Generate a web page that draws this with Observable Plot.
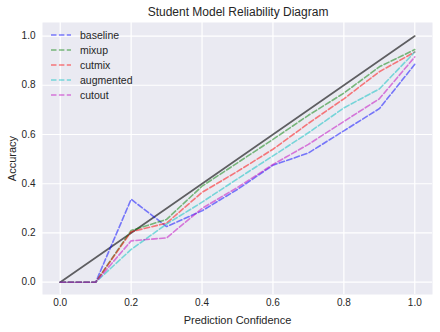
<!DOCTYPE html>
<html>
<head>
<meta charset="utf-8">
<script src="https://cdn.jsdelivr.net/npm/d3@7"></script>
<script src="https://cdn.jsdelivr.net/npm/@observablehq/plot@0.6"></script>
<style>
  html, body { margin: 0; padding: 0; background: #ffffff; }
  #wrap { position: relative; width: 440px; height: 332px; font-family: "Liberation Sans", Arial, sans-serif; color: #262626; }
  #title { height: 22px; line-height: 24px; text-align: center; font-size: 12px; padding-left: 36px; box-sizing: border-box; }
  #legend { position: absolute; left: 50px; top: 27px; font-size: 10.5px; }
  #legend .row { height: 15px; display: flex; align-items: center; }
  #legend svg { margin-right: 8px; }
</style>
</head>
<body>
<div id="wrap">
  <div id="title">Student Model Reliability Diagram</div>
  <div id="chart"></div>
  <div id="legend"></div>
</div>
<script>
const confidence = [0, 0.1, 0.2, 0.3, 0.4, 0.5, 0.6, 0.7, 0.8, 0.9, 1.0];
const baseline  = [0, 0, 0.337, 0.226, 0.29, 0.377, 0.475, 0.525, 0.615, 0.705, 0.885];
const mixup     = [0, 0, 0.21, 0.255, 0.39, 0.485, 0.58, 0.678, 0.768, 0.875, 0.945];
const cutmix    = [0, 0, 0.205, 0.24, 0.365, 0.45, 0.54, 0.645, 0.745, 0.855, 0.935];
const augmented = [0, 0, 0.133, 0.236, 0.325, 0.42, 0.513, 0.607, 0.708, 0.785, 0.935];
const cutout    = [0, 0, 0.168, 0.18, 0.30, 0.385, 0.478, 0.56, 0.653, 0.745, 0.915];
const perfectX = [0, 1];
const perfectY = [0, 1];
const seriesNames = ["baseline", "mixup", "cutmix", "augmented", "cutout"];
const seriesValues = [baseline, mixup, cutmix, augmented, cutout];
const seriesColors = ["#0000ff", "#008000", "#ff0000", "#00bfbf", "#bf00bf"];
const xTicks = [0, 0.2, 0.4, 0.6, 0.8, 1.0];
const yTicks = [0, 0.2, 0.4, 0.6, 0.8, 1.0];

const rows = [];
seriesNames.forEach((name, i) => {
  confidence.forEach((c, j) => rows.push({series: name, x: c, y: seriesValues[i][j]}));
});
const perfect = perfectX.map((v, i) => ({x: v, y: perfectY[i]}));

const chart = Plot.plot({
  width: 440,
  height: 310,
  marginTop: 0,
  marginLeft: 42,
  marginRight: 8,
  marginBottom: 38,
  style: {fontFamily: "Liberation Sans, Arial, sans-serif", fontSize: "10px", color: "#262626", background: "transparent"},
  x: {domain: [-0.05, 1.05], ticks: xTicks, tickFormat: d3.format(".1f"), label: null},
  y: {domain: [-0.05, 1.055], ticks: yTicks, tickFormat: d3.format(".1f"), label: null},
  color: {domain: seriesNames, range: seriesColors},
  marks: [
    Plot.frame({fill: "#EAEAF2", stroke: null}),
    Plot.gridX(xTicks, {stroke: "#ffffff", strokeOpacity: 1, strokeWidth: 1.2}),
    Plot.gridY(yTicks, {stroke: "#ffffff", strokeOpacity: 1, strokeWidth: 1.2}),
    Plot.axisX(xTicks, {tickSize: 0, tickPadding: 4, tickFormat: d3.format(".1f"), fontSize: 10, label: "Prediction Confidence", labelAnchor: "center", labelArrow: "none", labelOffset: 29}),
    Plot.axisY(yTicks, {tickSize: 0, tickPadding: 7, tickFormat: d3.format(".1f"), fontSize: 10, label: "Accuracy", labelAnchor: "center", labelArrow: "none", labelOffset: 34}),
    Plot.line(perfect, {x: "x", y: "y", stroke: "#000000", strokeOpacity: 0.6, strokeWidth: 1.7}),
    Plot.line(rows, {x: "x", y: "y", z: "series", stroke: "series", strokeOpacity: 0.5, strokeWidth: 1.6, strokeDasharray: "5.5,2.4"})
  ]
});
document.getElementById("chart").appendChild(chart);

chart.querySelectorAll("g[aria-label='x-axis label'] text, g[aria-label='y-axis label'] text").forEach(t => t.setAttribute("font-size", "11"));

const legend = document.getElementById("legend");
seriesNames.forEach((name, i) => {
  const row = document.createElement("div");
  row.className = "row";
  row.innerHTML = `<svg width="22" height="6"><line x1="1" y1="3" x2="21" y2="3" stroke="${seriesColors[i]}" stroke-opacity="0.5" stroke-width="1.6" stroke-dasharray="5.5,2.4"/></svg><span>${name}</span>`;
  legend.appendChild(row);
});
</script>
</body>
</html>
